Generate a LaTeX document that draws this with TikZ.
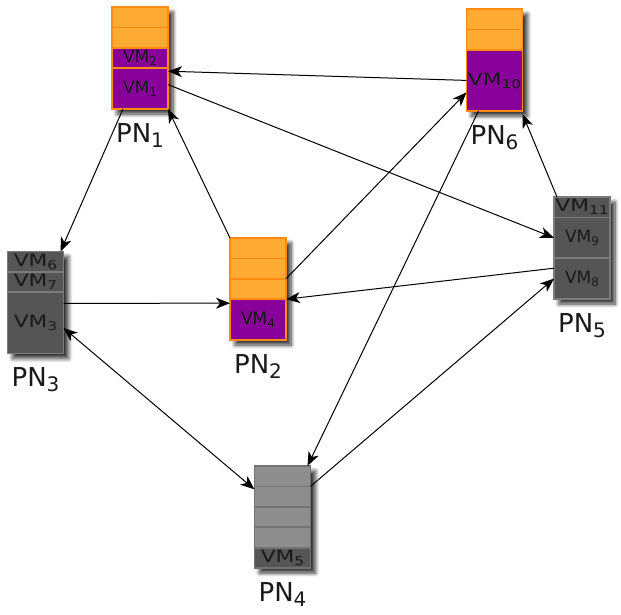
\documentclass[tikz,border=0pt]{standalone}
\usepackage{fontspec}
\setmainfont{DejaVu Sans}
\newfontfamily\vmwidefont[FakeStretch=1.28]{DejaVu Sans}
\usetikzlibrary{positioning,arrows.meta,shadows.blur}

\definecolor{pmorange}{HTML}{FFAA33}
\definecolor{pmorangeline}{HTML}{FF8A10}
\definecolor{vmpurple}{HTML}{880099}
\definecolor{pmdark}{HTML}{555555}
\definecolor{pmdarkline}{HTML}{7C7C7C}
\definecolor{pmgrey}{HTML}{8E8E8E}
\definecolor{pmgreyline}{HTML}{737373}

\newcommand{\vmidx}[1]{\raisebox{-3pt}{\fontsize{12}{12}\selectfont #1}}
\newcommand{\pnidx}[1]{\raisebox{-5pt}{\fontsize{20}{20}\selectfont #1}}

\begin{document}
\begin{tikzpicture}[x=1pt,y=-1pt,
  pm/.style={draw, line width=1.8pt, minimum width=56pt, minimum height=102pt,
    inner sep=0pt, outer sep=0pt,
    blur shadow={shadow xshift=5pt, shadow yshift=-5pt, shadow blur radius=4pt,
      shadow blur steps=8, shadow opacity=80}},
  slot/.style={draw, line width=1.8pt, minimum width=56pt, minimum height=20.4pt,
    inner sep=0pt, outer sep=0pt, text=black!90, font=\fontsize{17}{17}\selectfont},
  twoslot/.style={minimum height=40.8pt},
  threeslot/.style={minimum height=61.2pt},
  wide/.style={font=\vmwidefont\fontsize{17}{17}\selectfont},
  free/.style={slot, fill=pmorange, draw=pmorangeline},
  vm/.style={slot, fill=vmpurple, draw=pmorangeline},
  darkvm/.style={slot, fill=pmdark, draw=pmdarkline},
  greyslot/.style={slot, fill=pmgrey, draw=pmgreyline},
  pnlabel/.style={font=\fontsize{26}{26}\selectfont, text=black!90, inner sep=0pt, below=14pt of #1},
  >={Stealth[length=14pt,width=11pt,inset=4pt]},
  link/.style={draw, line width=1pt, ->}]
\useasboundingbox (0,0) rectangle (621,614);

% PN1
\node[pm, fill=pmorange, draw=pmorangeline] (pn1) at (140,58) {};
\node[free, below=0pt of pn1.north] (pn1s1) {};
\node[free, below=0pt of pn1s1] (pn1s2) {};
\node[vm, below=0pt of pn1s2] (vm2) {VM\vmidx{2}};
\node[vm, twoslot, below=0pt of vm2] (vm1) {VM\vmidx{1}};
\node[pnlabel=pn1] (lbl1) {PN\pnidx{1}};

% PN6
\node[pm, fill=pmorange, draw=pmorangeline] (pn6) at (494.5,60) {};
\node[free, below=0pt of pn6.north] (pn6s1) {};
\node[free, below=0pt of pn6s1] (pn6s2) {};
\node[vm, threeslot, wide, below=0pt of pn6s2] (vm10) {VM\vmidx{10}};
\node[pnlabel=pn6] (lbl6) {PN\pnidx{6}};

% PN3
\node[pm, fill=pmdark, draw=pmdarkline] (pn3) at (35.5,302.5) {};
\node[darkvm, wide, below=0pt of pn3.north] (vm6) {VM\vmidx{6}};
\node[darkvm, wide, below=0pt of vm6] (vm7) {VM\vmidx{7}};
\node[darkvm, threeslot, wide, below=0pt of vm7] (vm3) {VM\vmidx{3}};
\node[pnlabel=pn3] (lbl3) {PN\pnidx{3}};

% PN2
\node[pm, fill=pmorange, draw=pmorangeline] (pn2) at (258,289) {};
\node[free, below=0pt of pn2.north] (pn2s1) {};
\node[free, below=0pt of pn2s1] (pn2s2) {};
\node[free, below=0pt of pn2s2] (pn2s3) {};
\node[vm, twoslot, below=0pt of pn2s3] (vm4) {VM\vmidx{4}};
\node[pnlabel=pn2] (lbl2) {PN\pnidx{2}};

% PN5
\node[pm, fill=pmdark, draw=pmdarkline] (pn5) at (582,248) {};
\node[darkvm, wide, below=0pt of pn5.north] (vm11) {VM\vmidx{11}};
\node[darkvm, twoslot, below=0pt of vm11] (vm9) {VM\vmidx{9}};
\node[darkvm, twoslot, below=0pt of vm9] (vm8) {VM\vmidx{8}};
\node[pnlabel=pn5] (lbl5) {PN\pnidx{5}};

% PN4
\node[pm, fill=pmgrey, draw=pmgreyline] (pn4) at (282.5,517) {};
\node[greyslot, below=0pt of pn4.north] (pn4s1) {};
\node[greyslot, below=0pt of pn4s1] (pn4s2) {};
\node[greyslot, below=0pt of pn4s2] (pn4s3) {};
\node[greyslot, below=0pt of pn4s3] (pn4s4) {};
\node[darkvm, wide, draw=pmgreyline, below=0pt of pn4s4] (vm5) {VM\vmidx{5}};
\node[pnlabel=pn4] (lbl4) {PN\pnidx{4}};

% links
\path[link] (vm10.west) -- ([yshift=-3pt]vm1.north east);
\path[link] ([yshift=4pt]vm1.east) -- (vm9.west);
\path[link] ([xshift=-17pt]pn1.south) -- ([xshift=-3pt]vm6.north east);
\path[link] (pn2.north west) -- (pn1.south east);
\path[link] (pn2s2.south east) -- ([yshift=-12pt]vm10.west);
\path[link] ([yshift=-11pt]vm3.north east) -- ([yshift=-4pt]vm4.north west);
\path[link] ([yshift=-10pt]vm8.north west) -- (vm4.north east);
\path[link] ([xshift=3pt]vm11.north west) -- ([yshift=-3pt]pn6.south east);
\path[link, <->] ([yshift=-5pt]vm3.east) -- ([yshift=-3pt]pn4s1.south west);
\path[link] ([xshift=-16pt]pn6.south) -- ([xshift=-3pt]pn4.north east);
\path[link] (pn4s1.south east) -- (vm8.west);
\end{tikzpicture}
\end{document}
